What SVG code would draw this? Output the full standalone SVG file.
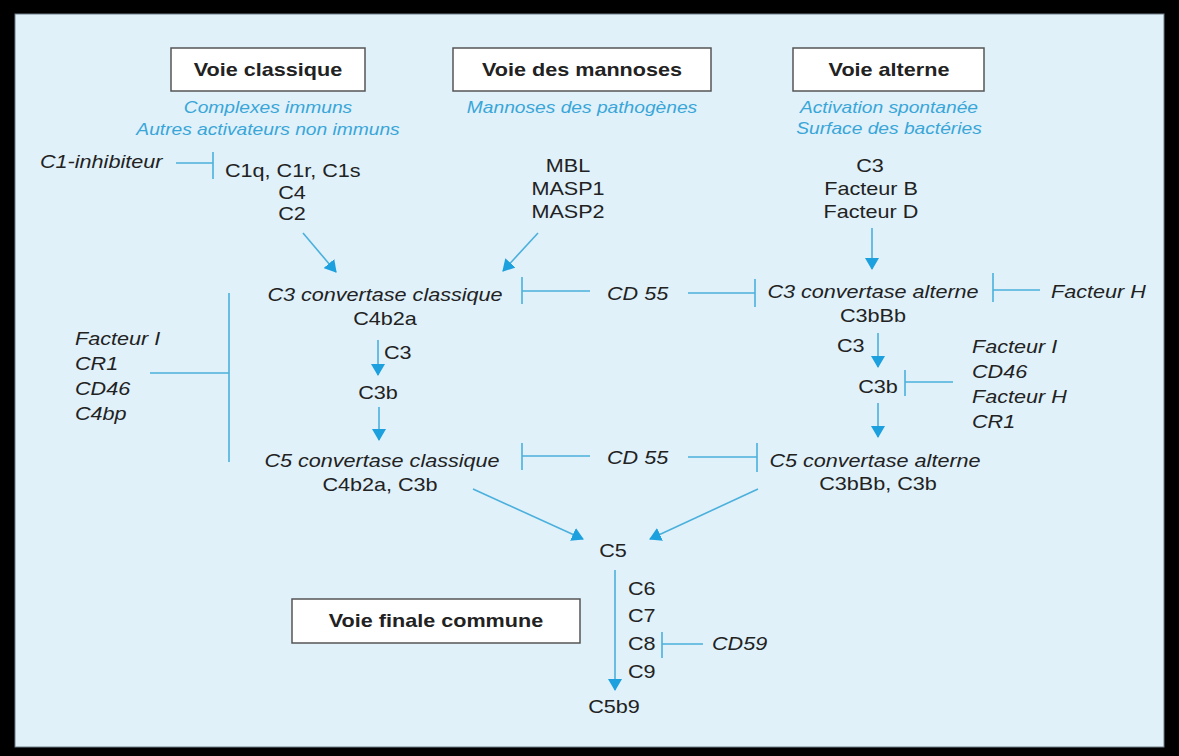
<svg xmlns="http://www.w3.org/2000/svg" width="1179" height="756" viewBox="0 0 1179 756">
<style>
.t{font-family:"Liberation Sans",Arial,Helvetica,sans-serif;font-size:18px;fill:#222222}
.i{font-style:italic}
.b{font-weight:bold}
.bl{font-family:"Liberation Sans",Arial,Helvetica,sans-serif;font-size:16px;font-style:italic;fill:#39a6d8;text-anchor:middle}
.m{text-anchor:middle}
.ln{stroke:#4bb0dc;stroke-width:1.6;fill:none}
.ar{stroke:#4bb0dc;stroke-width:1.6;fill:none;marker-end:url(#ah)}
.box{fill:#ffffff;stroke:#555555;stroke-width:1.5}
</style>
<defs>
<marker id="ah" markerUnits="userSpaceOnUse" markerWidth="12" markerHeight="14" refX="11" refY="7" orient="auto">
<path d="M0,0 L12,7 L0,14 Z" fill="#1ca0de"/>
</marker>
</defs>
<rect x="0" y="0" width="1179" height="756" fill="#000"/>
<rect x="15" y="14" width="1149" height="733" fill="#e0f1fa" stroke="#6f7f88" stroke-width="1"/>

<g id="voie-classique">
<rect class="box" x="171" y="48" width="194" height="43"/>
<text class="t b m" transform="translate(268 76) scale(1.2 1)">Voie classique</text>
<text class="bl" transform="translate(268 113) scale(1.2 1)">Complexes immuns</text>
<text class="bl" transform="translate(268 135) scale(1.2 1)">Autres activateurs non immuns</text>
</g>
<g id="voie-mannoses">
<rect class="box" x="453" y="48" width="258" height="43"/>
<text class="t b m" transform="translate(582 76) scale(1.2 1)">Voie des mannoses</text>
<text class="bl" transform="translate(582 113) scale(1.2 1)">Mannoses des pathogènes</text>
</g>
<g id="voie-alterne">
<rect class="box" x="793" y="48" width="191" height="43"/>
<text class="t b m" transform="translate(889 76) scale(1.2 1)">Voie alterne</text>
<text class="bl" transform="translate(889 113) scale(1.2 1)">Activation spontanée</text>
<text class="bl" transform="translate(889 134) scale(1.2 1)">Surface des bactéries</text>
</g>
<g id="voie-finale">
<rect class="box" x="292" y="599" width="288" height="44"/>
<text class="t b m" transform="translate(436 627) scale(1.2 1)">Voie finale commune</text>
</g>

<g id="c1-inhibiteur">
<text class="t i" transform="translate(40 168) scale(1.2 1)">C1-inhibiteur</text>
</g>
<g id="classique-composants">
<text class="t" transform="translate(225 177) scale(1.2 1)">C1q, C1r, C1s</text>
<text class="t m" transform="translate(292 199) scale(1.2 1)">C4</text>
<text class="t m" transform="translate(292 220) scale(1.2 1)">C2</text>
</g>
<g id="mannoses-composants">
<text class="t m" transform="translate(568 172) scale(1.2 1)">MBL</text>
<text class="t m" transform="translate(568 195) scale(1.2 1)">MASP1</text>
<text class="t m" transform="translate(568 218) scale(1.2 1)">MASP2</text>
</g>
<g id="alterne-composants">
<text class="t m" transform="translate(870 172) scale(1.2 1)">C3</text>
<text class="t m" transform="translate(871 195) scale(1.2 1)">Facteur B</text>
<text class="t m" transform="translate(871 218) scale(1.2 1)">Facteur D</text>
</g>
<g id="c3-convertase-classique">
<text class="t i m" transform="translate(385 301) scale(1.2 1)">C3 convertase classique</text>
<text class="t m" transform="translate(385 325) scale(1.2 1)">C4b2a</text>
</g>
<g id="c3-classique-label">
<text class="t" transform="translate(384 359) scale(1.2 1)">C3</text>
</g>
<g id="c3b-classique">
<text class="t m" transform="translate(378 399) scale(1.2 1)">C3b</text>
</g>
<g id="c5-convertase-classique">
<text class="t i m" transform="translate(382 467) scale(1.2 1)">C5 convertase classique</text>
<text class="t m" transform="translate(380 491) scale(1.2 1)">C4b2a, C3b</text>
</g>
<g id="inhibiteurs-gauche">
<text class="t i" transform="translate(75 345) scale(1.2 1)">Facteur I</text>
<text class="t i" transform="translate(75 370) scale(1.2 1)">CR1</text>
<text class="t i" transform="translate(75 395) scale(1.2 1)">CD46</text>
<text class="t i" transform="translate(75 420) scale(1.2 1)">C4bp</text>
</g>
<g id="cd55-haut">
<text class="t i" transform="translate(607 300) scale(1.2 1)">CD 55</text>
</g>
<g id="cd55-bas">
<text class="t i" transform="translate(607 464) scale(1.2 1)">CD 55</text>
</g>
<g id="c3-convertase-alterne">
<text class="t i m" transform="translate(873 298) scale(1.2 1)">C3 convertase alterne</text>
<text class="t m" transform="translate(873 322) scale(1.2 1)">C3bBb</text>
</g>
<g id="facteur-h">
<text class="t i" transform="translate(1051 298) scale(1.2 1)">Facteur H</text>
</g>
<g id="c3-alterne-label">
<text class="t" transform="translate(837 352) scale(1.2 1)">C3</text>
</g>
<g id="c3b-alterne">
<text class="t m" transform="translate(878 393) scale(1.2 1)">C3b</text>
</g>
<g id="inhibiteurs-droite">
<text class="t i" transform="translate(972 353) scale(1.2 1)">Facteur I</text>
<text class="t i" transform="translate(972 378) scale(1.2 1)">CD46</text>
<text class="t i" transform="translate(972 403) scale(1.2 1)">Facteur H</text>
<text class="t i" transform="translate(972 428) scale(1.2 1)">CR1</text>
</g>
<g id="c5-convertase-alterne">
<text class="t i m" transform="translate(875 467) scale(1.2 1)">C5 convertase alterne</text>
<text class="t m" transform="translate(878 490) scale(1.2 1)">C3bBb, C3b</text>
</g>
<g id="c5">
<text class="t m" transform="translate(613 557) scale(1.2 1)">C5</text>
</g>
<g id="c6-c9">
<text class="t" transform="translate(628 595) scale(1.2 1)">C6</text>
<text class="t" transform="translate(628 622) scale(1.2 1)">C7</text>
<text class="t" transform="translate(628 650) scale(1.2 1)">C8</text>
<text class="t" transform="translate(628 678) scale(1.2 1)">C9</text>
</g>
<g id="cd59">
<text class="t i" transform="translate(712 650) scale(1.2 1)">CD59</text>
</g>
<g id="c5b9">
<text class="t m" transform="translate(614 713) scale(1.2 1)">C5b9</text>
</g>

<g id="connecteurs">
<line class="ar" x1="303" y1="233" x2="336" y2="272"/>
<line class="ar" x1="538" y1="233" x2="503" y2="271"/>
<line class="ar" x1="872" y1="228" x2="872" y2="269"/>
<line class="ar" x1="378" y1="340" x2="378" y2="375"/>
<line class="ar" x1="379" y1="407" x2="379" y2="440"/>
<line class="ar" x1="878" y1="333" x2="878" y2="367"/>
<line class="ar" x1="878" y1="403" x2="878" y2="437"/>
<line class="ar" x1="473" y1="489" x2="583" y2="539"/>
<line class="ar" x1="758" y1="489" x2="650" y2="539"/>
<line class="ar" x1="615" y1="570" x2="615" y2="690"/>

<path class="ln" d="M176,163 H213 M213,152 V179"/>
<path class="ln" d="M522,277 V304 M522,291 H590"/>
<path class="ln" d="M688,293 H755 M755,279 V307"/>
<path class="ln" d="M993,273 V302 M993,290 H1040"/>
<path class="ln" d="M150,373 H229 M229,293 V462"/>
<path class="ln" d="M905,370 V396 M905,382 H953"/>
<path class="ln" d="M522,443 V470 M522,456 H590"/>
<path class="ln" d="M688,457 H757 M757,443 V472"/>
<path class="ln" d="M662,632 V658 M662,644 H703"/>
</g>
</svg>
